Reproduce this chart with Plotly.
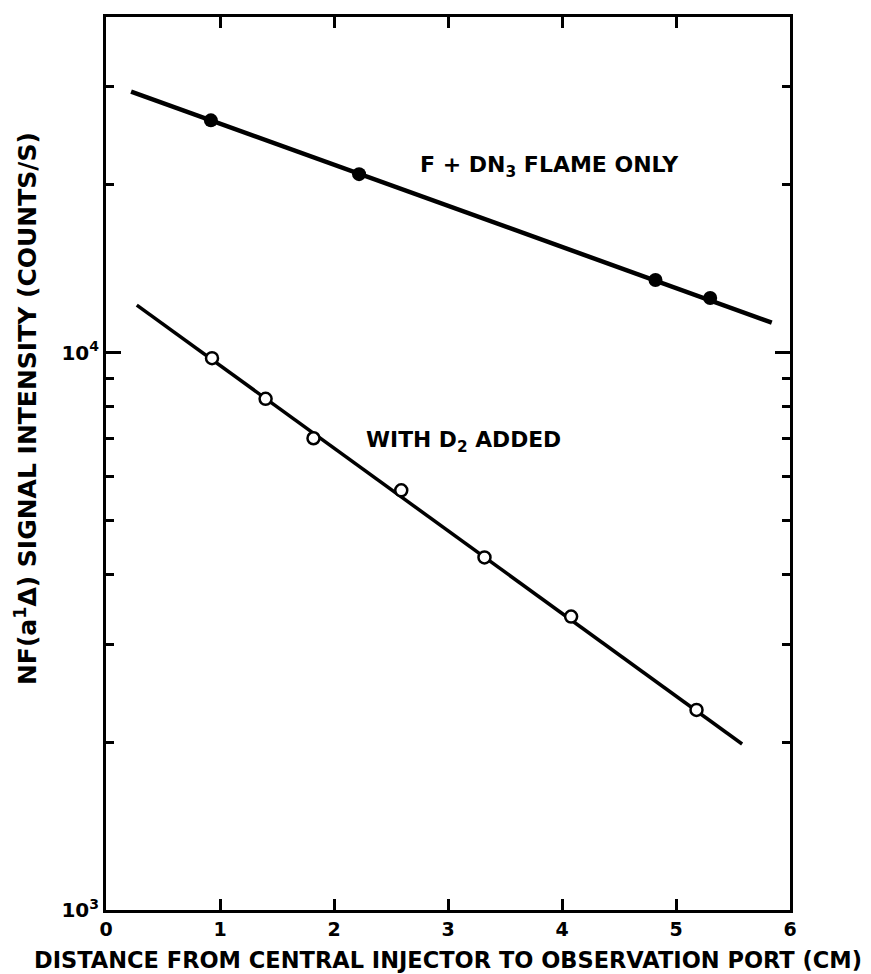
import plotly.graph_objects as go

# Measured NF(a1Δ) emission versus distance from the central injector
flame_x = [0.92, 2.22, 4.82, 5.30]
flame_y = [26100, 20900, 13500, 12530]
flame_fit_x = [0.22, 5.84]
flame_fit_y = [29400, 11320]

d2_x = [0.93, 1.40, 1.82, 2.59, 3.32, 4.08, 5.18]
d2_y = [9770, 8260, 7020, 5660, 4290, 3360, 2285]
d2_fit_x = [0.27, 5.58]
d2_fit_y = [12170, 1985]

x_ticks = [0, 1, 2, 3, 4, 5, 6]
y_major = [1e3, 1e4]
y_major_text = ["10<sup>3</sup>", "10<sup>4</sup>"]
y_minor = [2e3, 3e3, 4e3, 5e3, 6e3, 7e3, 8e3, 9e3, 2e4, 3e4]

FONT = "DejaVu Sans"
INK = "black"

fig = go.Figure()

fig.add_trace(go.Scatter(x=flame_fit_x, y=flame_fit_y, mode="lines",
                         line=dict(color=INK, width=4.5), hoverinfo="skip"))
fig.add_trace(go.Scatter(x=flame_x, y=flame_y, mode="markers",
                         marker=dict(color=INK, size=14, line=dict(width=0))))
fig.add_trace(go.Scatter(x=d2_fit_x, y=d2_fit_y, mode="lines",
                         line=dict(color=INK, width=3.5), hoverinfo="skip"))
fig.add_trace(go.Scatter(x=d2_x, y=d2_y, mode="markers",
                         marker=dict(color="white", size=12,
                                     line=dict(color=INK, width=2.5))))

fig.add_annotation(x=0.456, y=0.833, xref="paper", yref="paper",
                   text="<b>F + DN<sub>3</sub> FLAME ONLY</b>", showarrow=False,
                   xanchor="left", yanchor="middle",
                   font=dict(family=FONT, size=22, color=INK))
fig.add_annotation(x=0.377, y=0.525, xref="paper", yref="paper",
                   text="<b>WITH D<sub>2</sub> ADDED</b>", showarrow=False,
                   xanchor="left", yanchor="middle",
                   font=dict(family=FONT, size=21.8, color=INK))

# Rotated y-axis caption, placed left of the tick labels
fig.add_annotation(x=-0.117, y=0.562, xref="paper", yref="paper",
                   text="<b>NF(a<sup>1</sup>Δ) SIGNAL INTENSITY (COUNTS/S)</b>",
                   showarrow=False, textangle=-90,
                   xanchor="center", yanchor="middle",
                   font=dict(family=FONT, size=25, color=INK))

fig.update_layout(
    width=871, height=974,
    margin=dict(l=106, r=81, t=17, b=64, autoexpand=False),
    paper_bgcolor="white", plot_bgcolor="white",
    showlegend=False,
    font=dict(family=FONT, color=INK),
)

fig.update_xaxes(
    range=[0, 6], tickvals=x_ticks, ticktext=[f"<b>{v}</b>" for v in x_ticks],
    ticks="inside", ticklen=11, tickwidth=2.5, tickcolor=INK,
    showline=True, linewidth=3, linecolor=INK, mirror="ticks",
    showgrid=False, zeroline=False, automargin=False,
    tickfont=dict(family=FONT, size=19, color=INK),
    title=dict(text="<b>DISTANCE FROM CENTRAL INJECTOR TO OBSERVATION PORT (CM)</b>",
               font=dict(family=FONT, size=22.5, color=INK), standoff=14),
)

fig.update_yaxes(
    type="log", range=[3, 4.60206],
    tickvals=y_major, ticktext=[f"<b>{t}</b>" for t in y_major_text],
    ticks="inside", ticklen=15, tickwidth=2.5, tickcolor=INK,
    minor=dict(tickvals=y_minor, ticks="inside", ticklen=8, tickwidth=2.5,
               tickcolor=INK, showgrid=False),
    showline=True, linewidth=3, linecolor=INK, mirror="ticks",
    showgrid=False, zeroline=False, automargin=False,
    tickfont=dict(family=FONT, size=20, color=INK),
)

fig.write_html("out.html", config={"displayModeBar": False})
